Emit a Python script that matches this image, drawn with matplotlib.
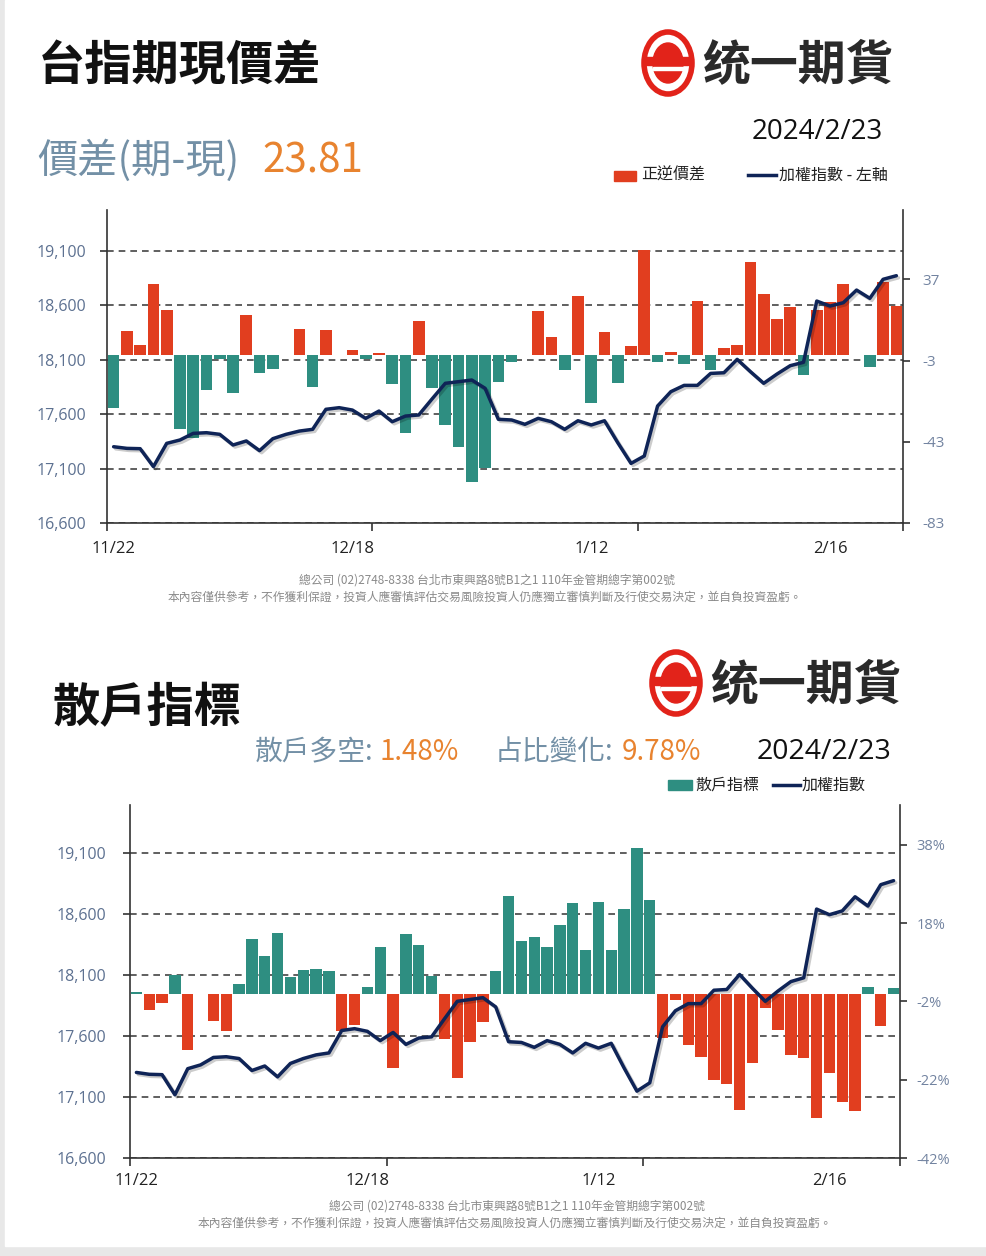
import matplotlib
matplotlib.use('Agg')
import matplotlib.pyplot as plt
from matplotlib.patches import Rectangle, Ellipse
from matplotlib.lines import Line2D
import matplotlib.patheffects as pe

# ---------------- data ----------------
x_labels = ['11/22', '12/18', '1/12', '2/16']
x_label_pos = [0, 18, 36, 54]

taiex = [17301, 17286, 17283, 17118, 17332, 17363, 17424, 17430, 17415, 17317,
         17354, 17265, 17375, 17415, 17445, 17461, 17645, 17660, 17638, 17562,
         17629, 17531, 17583, 17593, 17740, 17884, 17899, 17914, 17838, 17553,
         17547, 17507, 17562, 17531, 17461, 17540, 17501, 17540, 17338, 17148,
         17216, 17675, 17807, 17865, 17865, 17975, 17981, 18104, 17991, 17884,
         17969, 18046, 18077, 18640, 18594, 18625, 18741, 18665, 18840, 18873]

spread = [-26.5, 11.7, 4.8, 34.7, 21.9, -36.5, -41.1, -17.5, -2.4, -19.1,
          19.6, -8.9, -7.1, 0.0, 12.7, -16.2, 12.1, 0.0, 2.1, -2.3,
          0.6, -14.7, -38.8, 16.7, -16.7, -34.7, -45.4, -63.0, -55.7, -13.4,
          -3.6, 0.0, 21.6, 8.8, -7.6, 29.0, -23.7, 11.2, -13.9, 4.3,
          51.5, -3.5, 1.1, -4.7, 26.5, -7.6, 3.3, 4.5, 45.7, 29.6,
          17.3, 23.5, -10.1, 21.9, 26.0, 34.6, 0.0, -6.3, 35.6, 23.81]

retail = [0.5, -4.2, -2.5, 4.8, -14.5, 0.0, -7.0, -9.5, 2.4, 14.0,
          9.6, 15.4, 4.2, 6.0, 6.3, 5.7, -9.5, -8.0, 1.8, 11.9,
          -18.9, 15.2, 12.5, 4.6, -11.6, -21.6, -12.3, -7.3, 5.8, 25.0,
          13.5, 14.5, 12.0, 17.5, 23.2, 11.2, 23.3, 11.1, 21.7, 37.3,
          24.0, -11.4, -1.7, -13.0, -16.2, -22.1, -23.1, -29.7, -17.6, -3.7,
          -9.4, -15.7, -16.5, -31.9, -20.2, -27.6, -30.1, 1.8, -8.3, 1.48]

left_ticks = [16600, 17100, 17600, 18100, 18600, 19100]
spread_ticks = [-83, -43, -3, 37]
retail_ticks = [-42, -22, -2, 18, 38]

# ---------------- style ----------------
RED = '#E13E1F'
TEAL = '#2E8E81'
NAVY = '#0F2457'
SLATE = '#7390A6'
ORANGE = '#E8832F'
TICKC = '#5D7191'
CJK = ['Noto Sans CJK TC', 'DejaVu Sans']
NUM = ['Open Sans', 'DejaVu Sans']

W, H = 986, 1256
fig = plt.figure(figsize=(W / 100, H / 100), dpi=100)
fig.patch.set_facecolor('#e8e8e8')
bg = fig.add_axes([0, 0, 1, 1])
bg.set_xlim(0, W)
bg.set_ylim(H, 0)
bg.axis('off')
bg.add_patch(Rectangle((5, 0), W - 5, 1246, color='white', zorder=0))


def px_rect(l, t, r, b):
    return [l / W, 1 - b / H, (r - l) / W, (b - t) / H]


def chart(rect, bars, pos_c, neg_c, left_lim, right_lim, rticks, rlabels,
          lpad, rpad, xpad, rfs):
    n = len(taiex)
    ax = fig.add_axes(rect)
    ax.set_xlim(-0.5, n - 0.5)
    ax.set_ylim(*left_lim)
    ax.set_yticks(left_ticks)
    ax.set_yticklabels([f'{v:,}' for v in left_ticks], family=NUM,
                       fontsize=11.5, color=TICKC)
    ax.grid(axis='y', ls=(0, (4, 3)), color='#444444', lw=1.2)
    ax.grid(axis='x', visible=False)
    ax.set_axisbelow(True)
    for s in ['top', 'right']:
        ax.spines[s].set_visible(False)
    for s in ['left', 'bottom']:
        ax.spines[s].set_color('#333333')
        ax.spines[s].set_linewidth(1.2)
    ax.tick_params(axis='y', length=5, width=1.2, color='#333333', pad=lpad)
    ax.set_xticks([-0.5, 19.5, 39.5, 59.5])
    ax.set_xticklabels([])
    ax.tick_params(axis='x', which='major', length=6, width=1.2, color='#333333')
    ax.set_xticks(x_label_pos, minor=True)
    ax.set_xticklabels(x_labels, minor=True, family=NUM, fontsize=12, color='#222222')
    ax.tick_params(axis='x', which='minor', length=0, pad=xpad)

    ax2 = ax.twinx()
    ax2.set_ylim(*right_lim)
    cols = [pos_c if v >= 0 else neg_c for v in bars]
    ax2.bar(range(n), bars, width=0.88, color=cols, edgecolor='none')
    ax2.set_yticks(rticks)
    ax2.set_yticklabels(rlabels, family=NUM, fontsize=rfs, color='#7283A0')
    ax2.tick_params(axis='y', length=5, width=1.2, color='#333333', pad=rpad)
    for s in ['top', 'left', 'bottom']:
        ax2.spines[s].set_visible(False)
    ax2.spines['right'].set_color('#333333')
    ax2.spines['right'].set_linewidth(1.2)

    ax3 = ax.twinx()
    ax3.set_ylim(*left_lim)
    ax3.set_yticks([])
    for s in ax3.spines.values():
        s.set_visible(False)
    ax3.plot(range(n), taiex, color=NAVY, lw=2.5, solid_joinstyle='round',
             solid_capstyle='round',
             path_effects=[pe.SimpleLineShadow(offset=(1.5, -1.5), alpha=0.2),
                           pe.Normal()])
    return ax


def logo(cx, cy):
    red = '#E2231A'
    bg.add_patch(Ellipse((cx, cy), 48, 62, fill=False, ec=red, lw=4, zorder=2))
    bg.add_patch(Ellipse((cx, cy), 30, 40, color=red, zorder=2))
    bg.add_patch(Rectangle((cx - 23, cy - 6), 46, 8, color=red, zorder=2))
    bg.add_patch(Rectangle((cx - 15, cy + 4), 30, 2.5, color='white', zorder=3))
    bg.text(cx + 34, cy + 2, '统一期貨', fontsize=34.5, weight='bold',
            family=['Noto Sans CJK SC', 'DejaVu Sans'], color='#2a2a2a',
            va='center', ha='left', zorder=3)


# ---------------- top section ----------------
bg.text(38, 66, '台指期現價差', fontsize=34, weight='bold', family=CJK,
        color='#111111', va='center')
logo(668, 63)
bg.text(817, 132, '2024/2/23', fontsize=20, family=NUM, color='#111111',
        ha='center', va='center')
bg.text(37, 161, '價差(期-現)', fontsize=29, family=CJK, color=SLATE, va='center')
bg.text(262, 161, '23.81', fontsize=29, family=CJK, color=ORANGE, va='center')
bg.add_patch(Rectangle((614, 171), 22, 10, color=RED))
bg.text(641, 175, '正逆價差', fontsize=11.5, family=CJK, color='#222222', va='center')
bg.add_line(Line2D([748, 776], [175, 175], color=NAVY, lw=2.5))
bg.text(779, 175, '加權指數 - 左軸', fontsize=11.5, family=CJK, color='#222222',
        va='center')

chart(px_rect(107, 210, 903, 523), spread, RED, TEAL, (16600, 19477), (-83, 71.2),
      spread_ticks, [str(v) for v in spread_ticks], lpad=10, rpad=9, xpad=13, rfs=11)

bg.text(487, 580, '總公司 (02)2748-8338 台北市東興路8號B1之1 110年金管期總字第002號',
        fontsize=8.5, family=CJK, color='#8a8a8a', ha='center', va='center')
bg.text(485, 597, '本內容僅供參考，不作獲利保證，投資人應審慎評估交易風險投資人仍應獨立審慎判斷及行使交易決定，並自負投資盈虧。',
        fontsize=8.5, family=CJK, color='#8a8a8a', ha='center', va='center')

# ---------------- bottom section ----------------
bg.text(52, 708, '散戶指標', fontsize=34, weight='bold', family=CJK,
        color='#111111', va='center')
logo(676, 683)
bg.text(255, 752, '散戶多空:', fontsize=20, family=CJK, color=SLATE, va='center')
bg.text(380, 752, '1.48%', fontsize=20, family=CJK, color=ORANGE, va='center')
bg.text(495, 752, '占比變化:', fontsize=20, family=CJK, color=SLATE, va='center')
bg.text(622, 752, '9.78%', fontsize=20, family=CJK, color=ORANGE, va='center')
bg.text(757, 752, '2024/2/23', fontsize=20.5, family=NUM, color='#111111', va='center')
bg.add_patch(Rectangle((668, 780), 24, 10, color=TEAL))
bg.text(695, 785, '散戶指標', fontsize=11.5, family=CJK, color='#222222', va='center')
bg.add_line(Line2D([773, 800], [785, 785], color=NAVY, lw=2.5))
bg.text(802, 785, '加權指數', fontsize=11.5, family=CJK, color='#222222', va='center')

chart(px_rect(130, 805, 900, 1158), retail, TEAL, RED, (16600, 19493), (-42, 48.2),
      retail_ticks, [f'{v}%' for v in retail_ticks], lpad=12, rpad=7, xpad=11, rfs=10.5)

bg.text(517, 1206, '總公司 (02)2748-8338 台北市東興路8號B1之1 110年金管期總字第002號',
        fontsize=8.5, family=CJK, color='#8a8a8a', ha='center', va='center')
bg.text(515, 1223, '本內容僅供參考，不作獲利保證，投資人應審慎評估交易風險投資人仍應獨立審慎判斷及行使交易決定，並自負投資盈虧。',
        fontsize=8.5, family=CJK, color='#8a8a8a', ha='center', va='center')

fig.savefig('out.png', dpi=100, facecolor=fig.get_facecolor())
